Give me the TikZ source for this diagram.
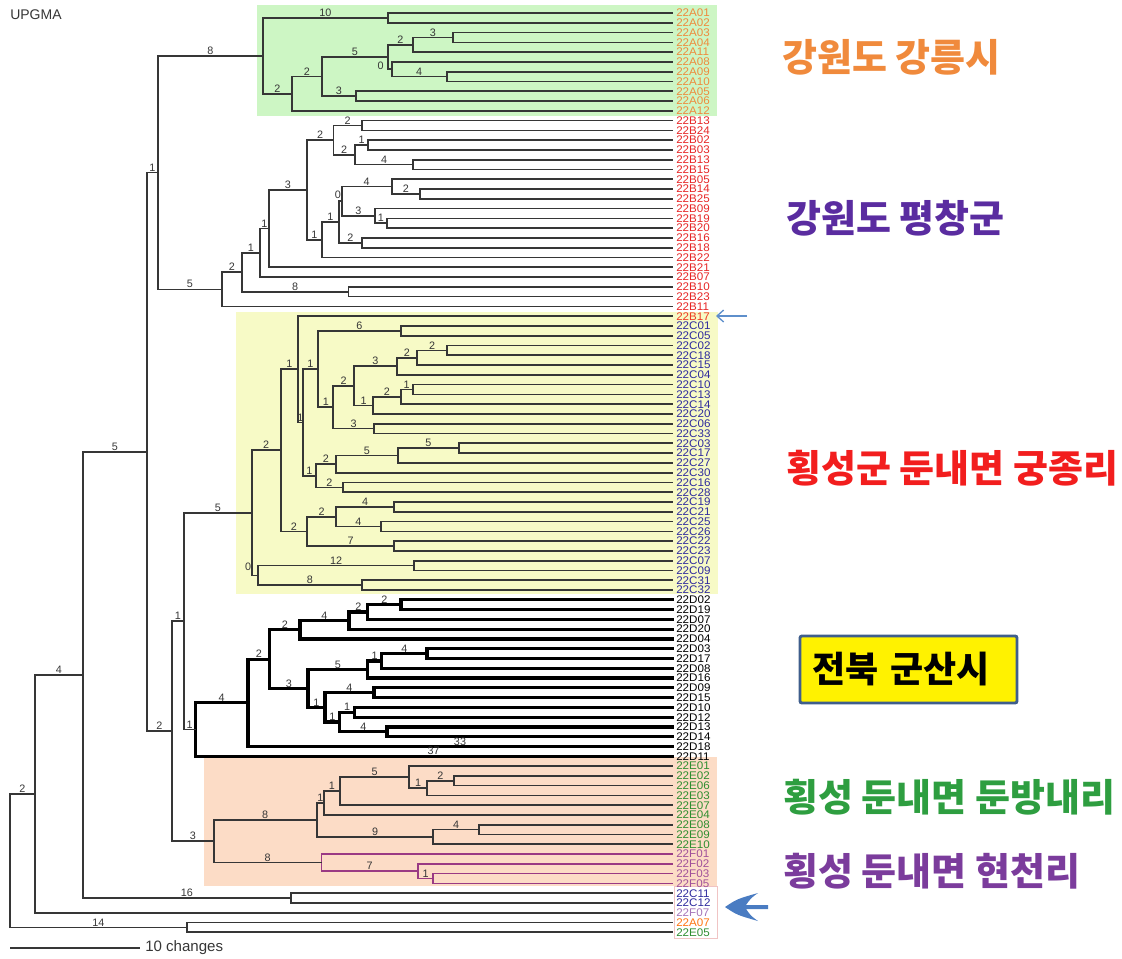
\documentclass[tikz,border=0pt]{standalone}
\usepackage{fontspec}
\setmainfont{Liberation Sans}
\newfontfamily\krfont{Noto Sans CJK KR}
\usetikzlibrary{calc,arrows.meta}

\definecolor{branchgray}{HTML}{363636}
\definecolor{agreen}{HTML}{CDF6C4}
\definecolor{cyellow}{HTML}{F7FAC6}
\definecolor{efsalmon}{HTML}{FCDCC6}
\definecolor{pinkedge}{HTML}{F0C4C4}
\definecolor{aorange}{HTML}{EE8A3C}
\definecolor{astrong}{HTML}{FF7410}
\definecolor{bred}{HTML}{E62626}
\definecolor{bredorange}{HTML}{EE3A24}
\definecolor{cblue}{HTML}{2E2A9E}
\definecolor{egreen}{HTML}{2E8E30}
\definecolor{fpurple}{HTML}{A0509A}
\definecolor{flight}{HTML}{A474B8}
\definecolor{fline}{HTML}{9A3A84}
\definecolor{arrowblue}{HTML}{4A7CC2}
\definecolor{thinblue}{HTML}{5E8FCB}
\definecolor{boxedge}{HTML}{3F5E8C}
\definecolor{korange}{HTML}{F08A3C}
\definecolor{kviolet}{HTML}{5A2CA0}
\definecolor{kred}{HTML}{F21E1E}
\definecolor{kgreen}{HTML}{2E9E40}
\definecolor{kpurple}{HTML}{7B3C9C}

% leaf coordinates (line ends) and their labels
\newcommand\leafset[3]{%
  \foreach \nm/\tx [count=\li from #1] in {#3} {%
    \coordinate (\nm) at (672,13+\li*9.78);
    \node[leaflab,text=#2] (t\nm) at (\nm) {\scalebox{1.05}[1]{\tx}};
  }}
% branch label on the horizontal from parent #2 to child #1
\newcommand\brlabel[3]{\if\relax\detokenize{#3}\relax\else
  \path (#1 -| #2) -- node[blab]{#3} (#1);\fi}
% joint: [style] name, x, child1, label1, child2, label2
\newcommand\jn[7][]{%
  \coordinate (#2m) at ($(#4)!0.5!(#6)$);
  \coordinate (#2) at (#3,0 |- #2m);
  \draw[branch,#1] (#4) -| (#2) |- (#6);
  \brlabel{#4}{#2}{#5}%
  \brlabel{#6}{#2}{#7}%
}

\begin{document}
\begin{tikzpicture}[x=0.75pt,y=-0.75pt,
  branch/.style={draw=branchgray,line width=1.25pt,line cap=rect},
  dbold/.style={draw=black,line width=2.4pt},
  fsub/.style={draw=fline},
  blab/.style={above=0.2pt,inner sep=0.6pt,font=\fontsize{8.1}{8}\selectfont,text=branchgray},
  blabtxt/.style={inner sep=0pt,font=\fontsize{8.1}{8}\selectfont,text=branchgray},
  leaflab/.style={anchor=west,xshift=3pt,inner sep=0pt,font=\fontsize{8.3}{8.3}\selectfont},
  ktitle/.style={anchor=west,inner sep=0pt,font=\krfont\bfseries\fontsize{28.5}{30}\selectfont}]
\useasboundingbox (0,0) rectangle (1122,958);

% shaded groups
\fill[agreen] (257,5) rectangle (717,116);
\fill[cyellow] (236,312) rectangle (718,594);
\fill[efsalmon] (204,757) rectangle (717,886);
\draw[pinkedge,line width=0.6pt] (674,886) rectangle (717,938);

% leaves
\leafset{0}{aorange}{a01/22A01,a02/22A02,a03/22A03,a04/22A04,a11/22A11,a08/22A08,a09/22A09,a10/22A10,a05/22A05,a06/22A06,a12/22A12}
\leafset{11}{bred}{b13/22B13,b24/22B24,b02/22B02,b03/22B03,b13x/22B13,b15/22B15,b05/22B05,b14/22B14,b25/22B25,b09/22B09,b19/22B19,b20/22B20,b16/22B16,b18/22B18,b22/22B22,b21/22B21,b07/22B07,b10/22B10,b23/22B23,b11/22B11}
\leafset{31}{bredorange}{b17/22B17}
\leafset{32}{cblue}{c01/22C01,c05/22C05,c02/22C02,c18/22C18,c15/22C15,c04/22C04,c10/22C10,c13/22C13,c14/22C14,c20/22C20,c06/22C06,c33/22C33,c03/22C03,c17/22C17,c27/22C27,c30/22C30,c16/22C16,c28/22C28,c19/22C19,c21/22C21,c25/22C25,c26/22C26,c22/22C22,c23/22C23,c07/22C07,c09/22C09,c31/22C31,c32/22C32}
\leafset{60}{black}{d02/22D02,d19/22D19,d07/22D07,d20/22D20,d04/22D04,d03/22D03,d17/22D17,d08/22D08,d16/22D16,d09/22D09,d15/22D15,d10/22D10,d12/22D12,d13/22D13,d14/22D14,d18/22D18,d11/22D11}
\leafset{77}{egreen}{e01/22E01,e02/22E02,e06/22E06,e03/22E03,e07/22E07,e04/22E04,e08/22E08,e09/22E09,e10/22E10}
\leafset{86}{fpurple}{f01/22F01,f02/22F02,f03/22F03,f05/22F05}
\leafset{90}{cblue}{c11/22C11,c12/22C12}
\leafset{92}{flight}{f07/22F07}
\leafset{93}{astrong}{a07/22A07}
\leafset{94}{egreen}{e05/22E05}

% group A
\jn{nA12}{387.7}{a01}{}{a02}{}
\jn{nA34}{452.7}{a03}{}{a04}{}
\jn{nA34b}{413}{nA34}{3}{a11}{}
\jn{nA910}{446.7}{a09}{}{a10}{}
\jn{nA8}{391.7}{a08}{}{nA910}{4}
\jn{nAa}{387.7}{nA34b}{2}{nA8}{}
\jn{nA56}{355.7}{a05}{}{a06}{}
\jn{nAb}{322}{nAa}{5}{nA56}{3}
\jn{nAc}{292}{nAb}{2}{a12}{}
\jn{nA}{263}{nA12}{10}{nAc}{2}
\node[blabtxt] (lA0) at ($(nA8 -| nAa)+(-7,-3)$) {0};

% group B
\jn{nB1}{362}{b13}{}{b24}{}
\jn{nB2}{368}{b02}{}{b03}{}
\jn{nB3}{413}{b13x}{}{b15}{}
\jn{nB4}{355}{nB2}{1}{nB3}{4}
\jn{nB5}{333.5}{nB1}{2}{nB4}{2}
\jn{nB6}{420}{b14}{}{b25}{}
\jn{nB7}{391.7}{b05}{}{nB6}{2}
\jn{nB8}{387}{b19}{}{b20}{}
\jn{nB9}{375}{b09}{}{nB8}{1}
\jn{nB10}{341.7}{nB7}{4}{nB9}{3}
\jn{nB11}{362}{b16}{}{b18}{}
\jn{nB12}{339}{nB10}{}{nB11}{2}
\jn{nB13}{322}{nB12}{1}{b22}{}
\jn{nB14}{307}{nB5}{2}{nB13}{1}
\jn{nB15}{269}{nB14}{3}{b21}{}
\jn{nB16}{260}{nB15}{1}{b07}{}
\jn{nB17}{348.5}{b10}{}{b23}{}
\jn{nB18}{242}{nB16}{1}{nB17}{8}
\jn{nB}{222}{nB18}{2}{b11}{}
\node[blabtxt] (lB0) at ($(nB10 -| nB12)+(-1,-6)$) {0};

% group C
\jn{nC1}{400.7}{c01}{}{c05}{}
\jn{nC2}{446.7}{c02}{}{c18}{}
\jn{nC3}{417.3}{nC2}{2}{c15}{}
\jn{nC4}{396.7}{nC3}{2}{c04}{}
\jn{nC5}{412.7}{c10}{}{c13}{}
\jn{nC6}{400.7}{nC5}{1}{c14}{}
\jn{nC7}{373.3}{nC6}{2}{c20}{}
\jn{nC8}{354}{nC4}{3}{nC7}{1}
\jn{nC9}{374}{c06}{}{c33}{}
\jn{nC10}{333.3}{nC8}{2}{nC9}{3}
\jn{nC11}{318.3}{nC1}{6}{nC10}{1}
\jn{nC12}{459.3}{c03}{}{c17}{}
\jn{nC13}{397.7}{nC12}{5}{c27}{}
\jn{nC14}{336}{nC13}{5}{c30}{}
\jn{nC15}{342.7}{c16}{}{c28}{}
\jn{nC16}{316}{nC14}{2}{nC15}{2}
\jn{nC17}{302.7}{nC11}{1}{nC16}{1}
\jn{nC18}{298.3}{b17}{}{nC17}{1}
\jn{nC19}{394.3}{c19}{}{c21}{}
\jn{nC20}{381}{c25}{}{c26}{}
\jn{nC21}{336}{nC19}{4}{nC20}{4}
\jn{nC22}{394}{c22}{}{c23}{}
\jn{nC23}{307.3}{nC21}{2}{nC22}{7}
\jn{nC24}{280.7}{nC18}{1}{nC23}{2}
\jn{nC25}{414}{c07}{}{c09}{}
\jn{nC26}{361.7}{c31}{}{c32}{}
\jn{nC27}{258.3}{nC25}{12}{nC26}{8}
\jn{nC}{251.7}{nC24}{2}{nC27}{}
\node[blabtxt] (lC0) at ($(nC27 -| nC)+(-3.5,-8.5)$) {0};

% group D (bold)
\jn[dbold]{nD1}{401}{d02}{}{d19}{}
\jn[dbold]{nD2}{367.8}{nD1}{2}{d07}{}
\jn[dbold]{nD3}{348.9}{nD2}{2}{d20}{}
\jn[dbold]{nD4}{300}{nD3}{4}{d04}{}
\jn[dbold]{nD5}{427}{d03}{}{d17}{}
\jn[dbold]{nD6}{381.5}{nD5}{4}{d08}{}
\jn[dbold]{nD7}{367.8}{nD6}{1}{d16}{}
\jn[dbold]{nD8}{374}{d09}{}{d15}{}
\jn[dbold]{nD9}{354.8}{d10}{}{d12}{}
\jn[dbold]{nD10}{387}{d13}{}{d14}{}
\jn[dbold]{nD11}{339.6}{nD9}{1}{nD10}{4}
\jn[dbold]{nD12}{325}{nD8}{4}{nD11}{1}
\jn[dbold]{nD13}{308}{nD7}{5}{nD12}{1}
\jn[dbold]{nD14}{269.6}{nD4}{2}{nD13}{3}
\jn[dbold]{nD15}{248}{nD14}{2}{d18}{33}
\jn[dbold]{nD}{195.2}{nD15}{4}{d11}{37}

% groups E and F
\jn{nE1}{453.7}{e02}{}{e06}{}
\jn{nE2}{427}{nE1}{2}{e03}{}
\jn{nE3}{409.3}{e01}{}{nE2}{1}
\jn{nE4}{340}{nE3}{5}{e07}{}
\jn{nE5}{324}{nE4}{1}{e04}{}
\jn{nE6}{478.9}{e08}{}{e09}{}
\jn{nE7}{433.3}{nE6}{4}{e10}{}
\jn{nE8}{316.7}{nE5}{1}{nE7}{9}
\jn[fsub]{nF1}{433.3}{f03}{}{f05}{}
\jn[fsub]{nF2}{417.8}{f02}{}{nF1}{1}
\jn[fsub]{nF3}{321.5}{f01}{}{nF2}{7}
\jn{nEF}{213.7}{nE8}{8}{nF3}{8}

% backbone
\jn{n184}{184}{nC}{5}{nD}{1}
\jn{n172}{172}{n184}{1}{nEF}{3}
\jn{n158}{158}{nA}{8}{nB}{5}
\jn{n147}{147}{n158}{1}{n172}{2}
\jn{nCC}{290.7}{c11}{}{c12}{}
\jn{n83}{83}{n147}{5}{nCC}{16}
\jn{n35}{35}{n83}{4}{f07}{}
\jn{nAE}{187}{a07}{}{e05}{}
\jn{root}{10}{n35}{2}{nAE}{14}

% title and scale bar
\node[anchor=west,inner sep=0pt,font=\fontsize{10.5}{11}\selectfont,text=branchgray] (upgma) at (10,15) {UPGMA};
\coordinate (sb0) at (10,948);
\coordinate (sb1) at (140,948);
\draw[branchgray,line width=0.8pt] (sb0) -- (sb1);
\node[anchor=west,inner sep=0pt,font=\fontsize{11.3}{12}\selectfont,text=branchgray] (sbt) at (145,948) {10 changes};

% region names
\node[ktitle,text=korange] (kA) at (782,57) {강원도 강릉시};
\node[ktitle,text=kviolet] (kB) at (786,218) {강원도 평창군};
\node[ktitle,text=kred] (kC) at (786,468) {횡성군 둔내면 궁종리};
\node[font=\krfont\bfseries\fontsize{27}{28}\selectfont,text=black,fill=yellow,draw=boxedge,line width=2.2pt,rounded corners=1.5pt,
  text width=144.75pt,align=left,inner xsep=9pt,minimum height=50.25pt] (kD) at (908.5,669.5) {전북 군산시};
\node[ktitle,text=kgreen] (kE) at (783,797) {횡성 둔내면 둔방내리};
\node[ktitle,text=kpurple] (kF) at (783,871) {횡성 둔내면 현천리};

% pointers
\coordinate (pt0) at (747,316);
\coordinate (pt1) at (716,316);
\draw[thinblue,line width=1pt,-{Straight Barb[length=5pt,width=9pt]}] (pt0) -- (pt1);
\coordinate (bigtip) at (725,907);
\fill[arrowblue] (bigtip) .. controls (737,899) .. (758,893)
  .. controls (751,898) .. (746,905) -- (768,905) -- (768,909) -- (746,909)
  .. controls (751,916) .. (758,921) .. controls (737,915) .. (bigtip) -- cycle;
\end{tikzpicture}
\end{document}
